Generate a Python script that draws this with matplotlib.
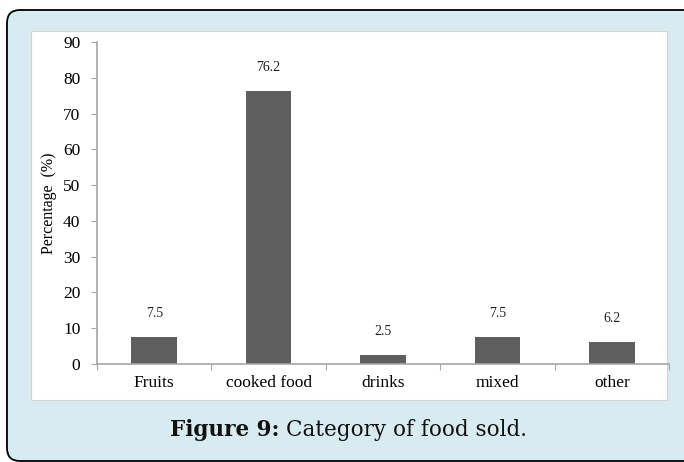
import matplotlib
matplotlib.use('Agg')
import matplotlib.pyplot as plt
from matplotlib.patches import FancyBboxPatch, Rectangle
from matplotlib.transforms import IdentityTransform

categories = ['Fruits', 'cooked food', 'drinks', 'mixed', 'other']
percent = [7.5, 76.2, 2.5, 7.5, 6.2]
yticks = [0, 10, 20, 30, 40, 50, 60, 70, 80, 90]

serif = 'Liberation Serif'
axis_gray = '#a6a6a6'

fig = plt.figure(figsize=(6.84, 4.62), dpi=100)
fig.patch.set_facecolor('white')

# rounded light-blue card, drawn in pixel coordinates
px = IdentityTransform()
card = FancyBboxPatch((7, 1), 720, 451, boxstyle='round,pad=0,rounding_size=13',
                      facecolor='#d7ebf0', edgecolor='black', linewidth=1.3,
                      transform=px, zorder=-2)
fig.add_artist(card)
panel = Rectangle((31, 62), 636, 369, facecolor='white', edgecolor='#d4d4d4',
                  linewidth=0.8, transform=px, zorder=-1)
fig.add_artist(panel)

ax = fig.add_axes([97 / 684, 98 / 462, 572 / 684, 322 / 462])
ax.patch.set_alpha(0)
x = range(len(categories))
ax.bar(x, percent, width=0.4, color='#5f5f5f')

for xi, v in zip(x, percent):
    ax.annotate(f'{v}', (xi, v), xytext=(0, 17), textcoords='offset points',
                ha='center', va='center', fontsize=10, family=serif, color='#222222')

ax.set_xlim(-0.5, len(categories) - 0.5)
ax.set_ylim(0, 90)
ax.set_yticks(yticks)
ax.set_yticklabels([str(t) for t in yticks], family=serif, fontsize=12.5)

# tick marks sit between categories, labels under the bars
ax.set_xticks([i - 0.5 for i in range(len(categories) + 1)])
ax.set_xticklabels([])
ax.set_xticks(list(x), minor=True)
ax.set_xticklabels(categories, minor=True, family=serif, fontsize=12.5)
ax.tick_params(axis='x', which='major', direction='out', length=4, color=axis_gray)
ax.tick_params(axis='x', which='minor', length=0, pad=8)
ax.tick_params(axis='y', direction='out', length=4, color=axis_gray, pad=8)

for s in ['top', 'right']:
    ax.spines[s].set_visible(False)
for s in ['left', 'bottom']:
    ax.spines[s].set_color(axis_gray)
    ax.spines[s].set_linewidth(1.2)

ax.set_ylabel('Percentage  (%)', family=serif, fontsize=11.5)
ax.yaxis.set_label_coords(-0.07, 0.5)

# caption: bold lead-in followed by regular text
r = fig.canvas.get_renderer()
cap_y = 0.069
t1 = fig.text(0, cap_y, 'Figure 9:', fontweight='bold', family='DejaVu Serif',
              fontsize=15.5, va='center', color='#111111')
t2 = fig.text(0, cap_y, 'Category of food sold.', family='DejaVu Serif',
              fontsize=15.5, va='center', color='#111111')
w1 = t1.get_window_extent(r).width
w2 = t2.get_window_extent(r).width
gap = 6
x0 = 348.5 - (w1 + gap + w2) / 2
t1.set_x(x0 / 684)
t2.set_x((x0 + w1 + gap) / 684)

fig.savefig('out.png', dpi=100)
